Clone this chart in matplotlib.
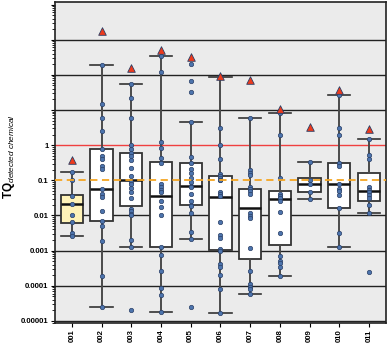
import numpy as np
import matplotlib
matplotlib.use("Agg")
import matplotlib.pyplot as plt
from matplotlib.ticker import FixedLocator, LogLocator, NullFormatter

plt.rcParams['font.family'] = ['Liberation Sans', 'DejaVu Sans']
plt.rcParams['mathtext.fontset'] = 'custom'
plt.rcParams['mathtext.rm'] = 'Liberation Sans'
plt.rcParams['mathtext.it'] = 'Liberation Sans:italic'
plt.rcParams['mathtext.bf'] = 'Liberation Sans:bold'

categories = ["001", "002", "003", "004", "005", "006", "007", "008", "009", "010", "011"]

points = {
    "001": [0.17, 0.1, 0.035, 0.021, 0.01, 0.0064, 0.0032, 0.0026],
    "002": [194, 14.8, 5.9, 2.57, 0.77, 0.5, 0.4, 0.26, 0.21, 0.055, 0.04, 0.034,
            0.013, 0.0069, 0.005, 0.0019, 0.00019, 0.000025],
    "003": [54, 22, 5.9, 1.0, 0.8, 0.59, 0.48, 0.38, 0.23, 0.13, 0.09, 0.08, 0.06,
            0.046, 0.032, 0.015, 0.013, 0.011, 0.01, 0.002, 0.0013, 0.00002],
    "004": [333, 122, 1.2, 0.83, 0.43, 0.31, 0.08, 0.063, 0.052, 0.046, 0.025, 0.017,
            0.0105, 0.00127, 0.00076, 0.00026, 0.000087, 0.000054, 0.000018],
    "005": [206, 66, 33, 4.7, 0.46, 0.31, 0.21, 0.16, 0.12, 0.09, 0.07, 0.063, 0.041,
            0.026, 0.02, 0.018, 0.012, 0.0034, 0.0021, 0.000025],
    "006": [86, 3.0, 1.0, 0.4, 0.155, 0.13, 0.12, 0.1, 0.1, 0.045, 0.04, 0.035, 0.0065,
            0.0027, 0.0023, 0.0011, 0.001, 0.00042, 0.00035, 0.0002, 0.000079, 0.000017],
    "007": [5.9, 0.2, 0.16, 0.14, 0.063, 0.055, 0.049, 0.041, 0.0115, 0.0098, 0.0083,
            0.0012, 0.00026, 0.00011, 0.000093, 0.000079, 0.00006],
    "008": [8.2, 2.0, 0.117, 0.041, 0.036, 0.032, 0.026, 0.0123, 0.0031, 0.0007, 0.0005,
            0.00043, 0.00034, 0.00019],
    "009": [0.34, 0.1, 0.076, 0.046, 0.029],
    "010": [27, 3.0, 1.9, 0.31, 0.25, 0.077, 0.056, 0.048, 0.037, 0.016, 0.0031, 0.00126],
    "011": [1.45, 0.52, 0.40, 0.065, 0.054, 0.046, 0.038, 0.032, 0.02, 0.012, 0.00025],
}

max_tq = [0.39, 1770, 158, 500, 318, 95, 69, 11, 3.2, 36, 2.9]

whis_low = [0.0026, 0.000025, 0.0013, 0.000018, 0.0021, 0.000017, 0.00006, 0.00019, 0.029, 0.00126, 0.012]
q1 = [0.0063, 0.0069, 0.018, 0.00127, 0.02, 0.00107, 0.00058, 0.00145, 0.046, 0.016, 0.026]
median = [0.021, 0.056, 0.1, 0.035, 0.07, 0.034, 0.016, 0.029, 0.076, 0.077, 0.05]
q3 = [0.037, 0.79, 0.59, 0.34, 0.31, 0.13, 0.058, 0.05, 0.115, 0.31, 0.16]
whis_high = [0.17, 194, 54, 333, 4.7, 86, 5.9, 8.2, 0.34, 27, 1.45]

fig = plt.figure(figsize=(3.89, 3.44), dpi=100)
ax = fig.add_axes([0.141, 0.061, 0.851, 0.933])
ax.set_facecolor('#ebebeb')
ax.set_yscale('log')
ax.set_ylim(10 ** -5.06, 10 ** 4.07)
ax.set_xlim(0.43, 11.57)

# horizontal grid lines
for k in [-5, -4, -3, -2, 1, 2, 3]:
    ax.axhline(10.0 ** k, color='#222222', lw=1.0, zorder=1)
ax.axhline(1.0, color='#f04040', lw=1.0, zorder=1)
ax.axhline(0.1, color='#f5a623', lw=1.3, ls=(0, (4, 2.5)), zorder=6)

positions = np.arange(1, len(categories) + 1)
stats = []
for i, c in enumerate(categories):
    stats.append(dict(med=median[i], q1=q1[i], q3=q3[i], whislo=whis_low[i],
                      whishi=whis_high[i], fliers=[], label=c))

bp = ax.bxp(stats, positions=positions, widths=0.75, patch_artist=True,
            showfliers=False,
            boxprops=dict(facecolor='white', edgecolor='#333333', linewidth=1.3),
            medianprops=dict(color='#111111', linewidth=1.8),
            whiskerprops=dict(color='#4a4a4a', linewidth=1.4),
            capprops=dict(color='#333333', linewidth=1.2),
            capwidths=0.75, zorder=3)
bp['boxes'][0].set_facecolor('#fff3b8')

for i, c in enumerate(categories):
    v = points[c]
    ax.scatter(np.full(len(v), positions[i]), v, s=10, color='#4d74ad',
               edgecolors='#2a3f66', linewidths=0.5, zorder=5)

ax.scatter(positions, max_tq, marker='^', s=30, color='#ee3a1c',
           edgecolors='#2a3f66', linewidths=0.6, zorder=7)

# ticks
ax.yaxis.set_major_locator(FixedLocator([10.0 ** k for k in range(-5, 5)]))
ylabels = []
for k in range(-5, 5):
    if k <= 0:
        ylabels.append(('%.5f' % 10.0 ** k).rstrip('0').rstrip('.') if k < 0 else '1')
    else:
        ylabels.append('')
ax.set_yticklabels(ylabels, fontsize=5.6, fontweight='bold')
ax.yaxis.set_minor_locator(LogLocator(base=10, subs=np.arange(2, 10), numticks=20))
ax.yaxis.set_minor_formatter(NullFormatter())
ax.tick_params(axis='y', which='major', length=3, width=0.8, pad=1.5)
ax.tick_params(axis='y', which='minor', length=2, width=0.6)

ax.set_xticks(positions)
ax.set_xticklabels(categories, rotation=90, fontsize=5.6, fontweight='bold')
ax.tick_params(axis='x', length=3, width=0.8, pad=1.5)

for s in ax.spines.values():
    s.set_color('#222222')
    s.set_linewidth(1.2)

ax.set_ylabel(r'$\mathbf{TQ}_{\mathit{detected\ chemical}}$', fontsize=8.5, labelpad=6)
ax.yaxis.set_label_coords(-0.115, 0.52)

fig.savefig('out.png', dpi=100)
